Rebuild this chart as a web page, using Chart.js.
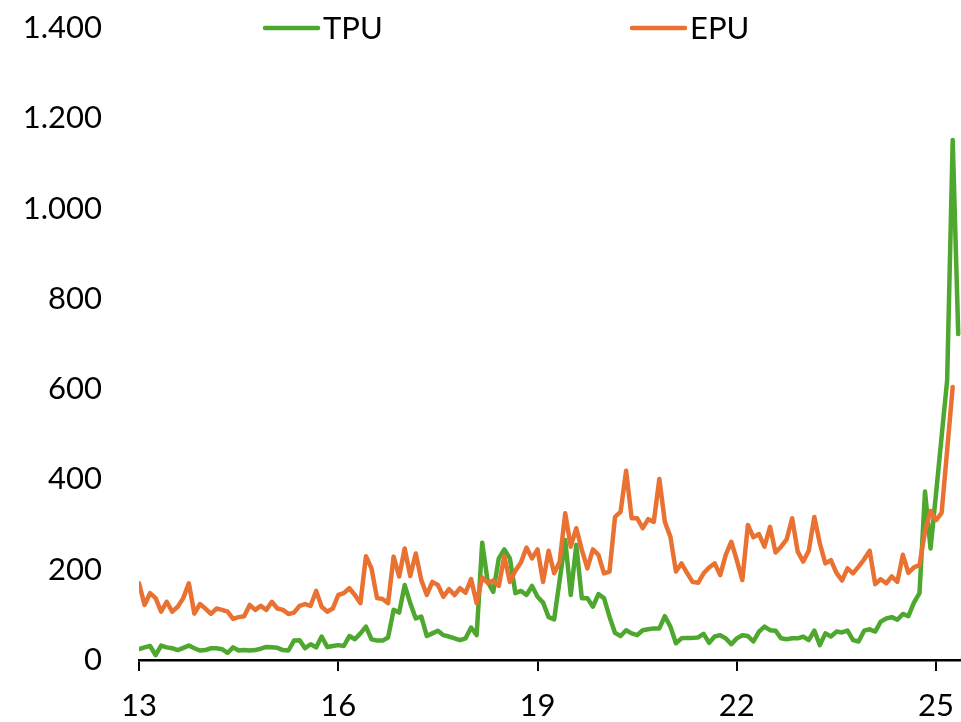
<!DOCTYPE html>
<html>
<head>
<meta charset="utf-8">
<title>TPU vs EPU</title>
<script src="https://cdn.jsdelivr.net/npm/chart.js@4.4.1/dist/chart.umd.min.js"></script>
<style>
  html, body { margin: 0; padding: 0; background: #fff; }
  #wrap { width: 961px; height: 722px; }
</style>
</head>
<body>
<div id="wrap">
  <canvas id="myChart" width="961" height="722"></canvas>
</div>
<script>
// monthly, Jan 2013 .. May 2025 (TPU) / Apr 2025 (EPU)
const startYear = 2013;

const tpu = [
  24, 28, 31, 11, 32, 28, 26, 22, 27, 32, 26, 21,          // 2013
  22, 26, 26, 24, 16, 28, 21, 22, 21, 22, 25, 29,          // 2014
  28, 27, 22, 21, 43, 44, 26, 35, 28, 52, 29, 31,          // 2015
  33, 31, 53, 46, 59, 74, 46, 43, 43, 50, 111, 105,        // 2016
  166, 126, 92, 96, 53, 59, 65, 55, 52, 48, 44, 48,        // 2017
  72, 55, 260, 173, 151, 225, 245, 225, 148, 153, 144, 164,// 2018
  140, 127, 95, 90, 177, 266, 144, 255, 137, 137, 118, 146,// 2019
  137, 96, 60, 53, 66, 59, 55, 66, 68, 70, 70, 97,         // 2020
  74, 37, 48, 49, 49, 50, 58, 38, 52, 55, 48, 35,          // 2021
  48, 55, 53, 41, 63, 74, 66, 65, 48, 46, 48, 48,          // 2022
  52, 44, 65, 33, 59, 52, 63, 61, 65, 44, 41, 65,          // 2023
  68, 63, 85, 92, 95, 89, 102, 97, 127, 148, 373, 247,     // 2024
  370, 495, 620, 1152, 722                                 // 2025
];

const epu = [
  170, 122, 148, 137, 107, 129, 107, 118, 137, 170, 103, 124, // 2013
  114, 102, 114, 111, 107, 91, 95, 97, 122, 111, 120, 111,    // 2014
  129, 114, 111, 102, 105, 120, 124, 120, 153, 118, 107, 114, // 2015
  144, 148, 159, 144, 126, 230, 203, 137, 135, 126, 229, 185, // 2016
  247, 186, 236, 177, 144, 173, 166, 140, 157, 144, 159, 149, // 2017
  179, 126, 183, 171, 176, 164, 230, 173, 198, 216, 249, 225, // 2018
  245, 173, 242, 192, 218, 325, 251, 292, 244, 203, 245, 233, // 2019
  192, 196, 317, 328, 419, 314, 314, 292, 312, 306, 401, 306, // 2020
  273, 196, 214, 193, 173, 171, 192, 205, 214, 188, 233, 262, // 2021
  221, 177, 299, 272, 279, 251, 295, 238, 251, 267, 314, 240, // 2022
  218, 242, 317, 258, 214, 221, 193, 176, 203, 192, 207, 223, // 2023
  242, 168, 179, 170, 185, 173, 233, 193, 205, 210, 285, 330, // 2024
  310, 326, 465, 605                                          // 2025
];

// x ticks every 3 years (months since Jan 2013)
const tickMonths = [0, 36, 72, 108, 144];
const tickLabels = ['13', '16', '19', '22', '25'];

const seriesNames = ['TPU', 'EPU'];
const seriesColors = ['#4EA72E', '#E97132'];

function toPoints(arr) {
  return arr.map((v, i) => ({ x: i, y: v }));
}

function fmtThousands(v) {
  return String(v).replace(/\B(?=(\d{3})+(?!\d))/g, '.');
}

const FONT = { family: 'Lato', size: 31 };

// legend drawn by hand: line + label, spaced like the original
const legendX = [265, 632];
const legendPlugin = {
  id: 'handLegend',
  afterDraw(chart) {
    const ctx = chart.ctx;
    const y = 28;
    ctx.save();
    chart.data.datasets.forEach((ds, i) => {
      const x = legendX[i];
      ctx.strokeStyle = ds.borderColor;
      ctx.lineWidth = 4.5;
      ctx.lineCap = 'round';
      ctx.beginPath();
      ctx.moveTo(x, y);
      ctx.lineTo(x + 53, y);
      ctx.stroke();
      ctx.fillStyle = '#000';
      ctx.font = FONT.size + 'px ' + FONT.family;
      ctx.textBaseline = 'middle';
      ctx.textAlign = 'left';
      ctx.fillText(ds.label, x + 58, y + 1);
    });
    ctx.restore();
  }
};

const ctx = document.getElementById('myChart').getContext('2d');
new Chart(ctx, {
  type: 'line',
  data: {
    datasets: [
      {
        label: seriesNames[0],
        data: toPoints(tpu),
        borderColor: seriesColors[0],
        backgroundColor: seriesColors[0],
        borderWidth: 4.5,
        pointRadius: 0,
        tension: 0,
        borderCapStyle: 'round',
        borderJoinStyle: 'round',
        fill: false,
        order: 1
      },
      {
        label: seriesNames[1],
        data: toPoints(epu),
        borderColor: seriesColors[1],
        backgroundColor: seriesColors[1],
        borderWidth: 4.5,
        pointRadius: 0,
        tension: 0,
        borderCapStyle: 'round',
        borderJoinStyle: 'round',
        fill: false,
        order: 0
      }
    ]
  },
  options: {
    responsive: false,
    animation: false,
    devicePixelRatio: 1,
    layout: { padding: { top: 28, left: 0, right: 0, bottom: 0 } },
    plugins: {
      legend: { display: false },
      tooltip: { enabled: false }
    },
    scales: {
      x: {
        type: 'linear',
        min: 0,
        max: 148.5,
        afterBuildTicks: s => { s.ticks = tickMonths.map(v => ({ value: v })); },
        afterFit: s => {
          s.height = 62;
          s.paddingLeft = 0;
          s.paddingRight = 0;
        },
        ticks: {
          autoSkip: false,
          maxRotation: 0,
          padding: 16,
          color: '#000',
          font: FONT,
          callback: v => tickLabels[tickMonths.indexOf(v)]
        },
        grid: {
          display: true,
          drawOnChartArea: false,
          drawTicks: true,
          tickLength: 11,
          color: '#000',
          lineWidth: 2
        },
        border: { display: true, color: '#000', width: 2.5 }
      },
      y: {
        min: 0,
        max: 1400,
        afterFit: s => {
          s.width = 139;
          s.paddingTop = 0;
          s.paddingBottom = 0;
        },
        ticks: {
          stepSize: 200,
          padding: 37,
          color: '#000',
          font: FONT,
          callback: v => fmtThousands(v)
        },
        grid: { display: false, drawTicks: false },
        border: { display: false }
      }
    }
  },
  plugins: [legendPlugin]
});
</script>
</body>
</html>
